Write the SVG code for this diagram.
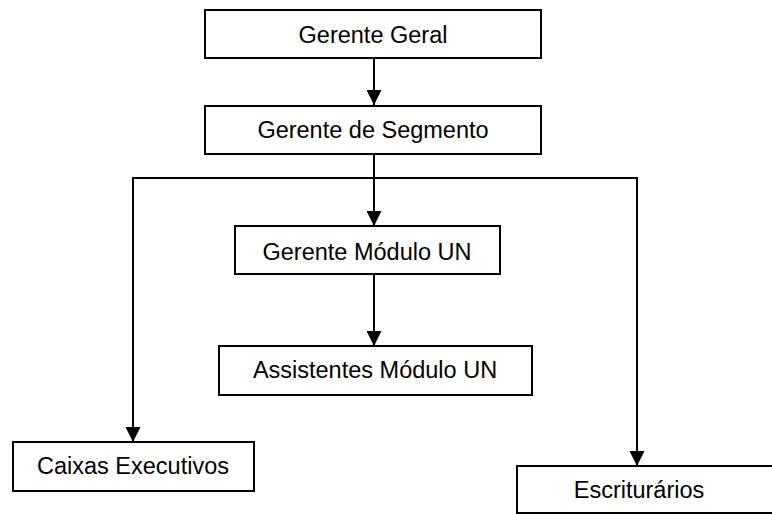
<svg xmlns="http://www.w3.org/2000/svg" width="772" height="514" viewBox="0 0 772 514">
<style>
.box{fill:#fff;stroke:#000;stroke-width:2}
.lbl{font-family:"Liberation Sans",Arial,sans-serif;font-size:23.5px;fill:#000;text-anchor:middle}
.ln{fill:none;stroke:#000;stroke-width:2}
</style>
<defs>
<marker id="ah" viewBox="0 0 15 15" refX="15" refY="7.5" markerWidth="15" markerHeight="15" markerUnits="userSpaceOnUse" orient="auto">
<path d="M0,0 L15,7.5 L0,15 Z" fill="#000"/>
</marker>
</defs>
<g id="connectors">
<line class="ln" x1="374" y1="58" x2="374" y2="105" marker-end="url(#ah)"/>
<line class="ln" x1="374" y1="154" x2="374" y2="226" marker-end="url(#ah)"/>
<polyline class="ln" points="374,178 133,178 133,442" marker-end="url(#ah)"/>
<polyline class="ln" points="374,178 637,178 637,466" marker-end="url(#ah)"/>
<line class="ln" x1="374" y1="274" x2="374" y2="346" marker-end="url(#ah)"/>
</g>
<g id="n1"><rect class="box" x="205" y="10" width="336" height="48"/><text class="lbl" x="373" y="43">Gerente Geral</text></g>
<g id="n2"><rect class="box" x="205" y="106" width="336" height="48"/><text class="lbl" x="373" y="138">Gerente de Segmento</text></g>
<g id="n3"><rect class="box" x="235" y="226" width="265" height="48"/><text class="lbl" x="367" y="260">Gerente Módulo UN</text></g>
<g id="n4"><rect class="box" x="219" y="346" width="313" height="49"/><text class="lbl" x="375" y="378">Assistentes Módulo UN</text></g>
<g id="n5"><rect class="box" x="13" y="442" width="241" height="49"/><text class="lbl" x="133" y="474">Caixas Executivos</text></g>
<g id="n6"><rect class="box" x="517" y="466" width="270" height="47"/><text class="lbl" x="639" y="498">Escriturários</text></g>
</svg>
